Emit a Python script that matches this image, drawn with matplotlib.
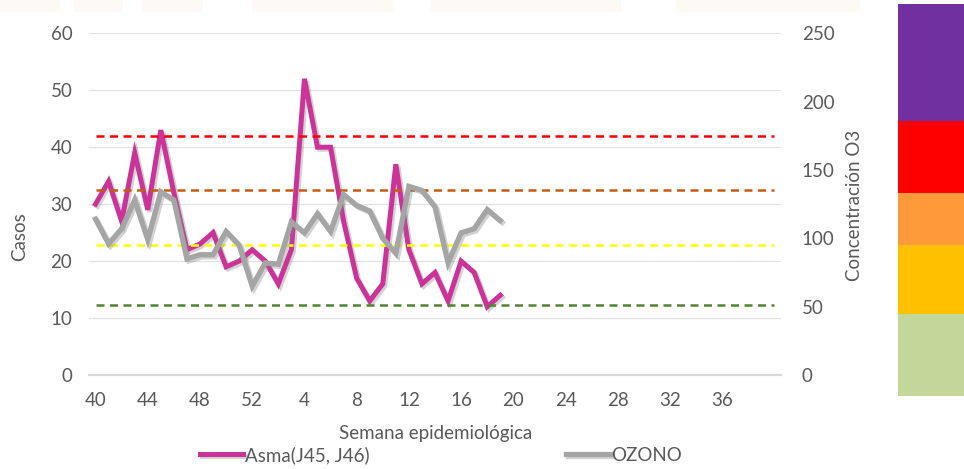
import numpy as np
import matplotlib.pyplot as plt
import matplotlib.patheffects as pe
from matplotlib.patches import Rectangle

plt.rcParams['font.family'] = ['Lato', 'DejaVu Sans']

# Semanas epidemiológicas: 40-52 del año anterior y 1-40 del año en curso
semanas = list(range(40, 53)) + list(range(1, 41))

# Casos semanales de asma (eje izquierdo)
asma = [30, 34, 27, 39, 29, 43, 32, 22, 23, 25, 19, 20, 22, 20, 16, 22,
        52, 40, 40, 27, 17, 13, 16, 37, 22, 16, 18, 13, 20, 18, 12, 14]

# Concentración de ozono (eje derecho)
ozono = [114, 96, 107, 128, 99, 134, 128, 85, 88, 88, 105, 95, 65, 82, 81, 112,
         104, 118, 105, 132, 124, 120, 100, 89, 138, 135, 123, 82, 104, 107, 121, 113]

# Límites de calidad del aire para O3
umbrales = [51, 95, 135, 175]
colores_umbral = ['#548235', '#FFFF00', '#C55A11', '#FF0000']

# Escala de colores lateral (de abajo hacia arriba)
bandas = [82, 69, 52, 72, 117]
colores_bandas = ['#C4D79B', '#FFC000', '#FF9A3A', '#FF0000', '#7030A0']

gris_texto = '#595959'
fs = 13.5
W, H = 964, 469

fig = plt.figure(figsize=(W / 100, H / 100), dpi=100)

# franja tenue en la parte superior
for x0, x1 in [(0, 60), (74, 123), (141, 203), (252, 393), (430, 621), (676, 860)]:
    fig.patches.append(Rectangle((x0 / W, 1 - 12 / H), (x1 - x0) / W, 12 / H,
                                 transform=fig.transFigure, color='#FBEFE4',
                                 alpha=0.35, lw=0, zorder=0))

ax = fig.add_axes([89 / W, 1 - 375 / H, 692 / W, 341.7 / H])
ax2 = ax.twinx()

n = len(semanas)
x = np.arange(n)
sombra = [pe.SimpleLineShadow(offset=(1.5, -1.5), shadow_color='#808080', alpha=0.35),
          pe.Normal()]

la, = ax.plot(x[:len(asma)], asma, color='#CC3399', lw=3.6,
              solid_joinstyle='miter', path_effects=sombra, label='Asma(J45, J46)')

for nivel, c in zip(umbrales, colores_umbral):
    ax2.hlines(nivel, x[0], x[-1], colors=c, linestyles=(0, (3.2, 2.2)), lw=1.8, zorder=1)

lo, = ax2.plot(x[:len(ozono)], ozono, color='#A5A5A5', lw=3.8,
               solid_joinstyle='miter', path_effects=sombra, zorder=3, label='OZONO')

ax.set_xlim(-0.5, n - 0.5)
ax.set_ylim(0, 60)
ax.set_yticks(range(0, 61, 10))
ax2.set_ylim(0, 250)
ax2.set_yticks(range(0, 251, 50))
ax.set_xticks(x[:-1:4])
ax.set_xticklabels([str(s) for s in semanas[:-1:4]])

ax.grid(axis='y', color='#E3E3E3', lw=0.9)
ax.set_axisbelow(True)
for a in (ax, ax2):
    for s in a.spines.values():
        s.set_visible(False)
ax.spines['bottom'].set_visible(True)
ax.spines['bottom'].set_color('#D9D9D9')
ax.spines['bottom'].set_linewidth(1.6)

ax.tick_params(axis='both', length=0, labelsize=fs, labelcolor=gris_texto)
ax.tick_params(axis='y', pad=12)
ax.tick_params(axis='x', pad=12)
ax2.tick_params(axis='y', length=0, labelsize=fs, labelcolor=gris_texto, pad=15)

fig.text(20 / W, 1 - 237 / H, 'Casos', rotation=90, ha='center', va='center',
         fontsize=fs, color=gris_texto)
fig.text(855 / W, 1 - 205 / H, 'Concentración O3', rotation=90, ha='center',
         va='center', fontsize=fs, color=gris_texto)
fig.text(436 / W, 1 - 433 / H, 'Semana epidemiológica', ha='center', va='center',
         fontsize=fs, color=gris_texto)

fig.legend(handles=[la, lo], loc='center', bbox_to_anchor=(441 / W, 1 - 455 / H),
           ncol=2, frameon=False, fontsize=fs, labelcolor=gris_texto,
           handlelength=2.3, handletextpad=0.1, columnspacing=10.5)

# escala de colores a la derecha
axb = fig.add_axes([898 / W, 1 - 396 / H, 66 / W, 392 / H])
axb.bar(0, bandas, bottom=np.concatenate([[0], np.cumsum(bandas)[:-1]]),
        color=colores_bandas, width=1.0)
axb.set_xlim(-0.5, 0.5)
axb.set_ylim(0, sum(bandas))
axb.axis('off')

fig.savefig('out.png', dpi=100)
